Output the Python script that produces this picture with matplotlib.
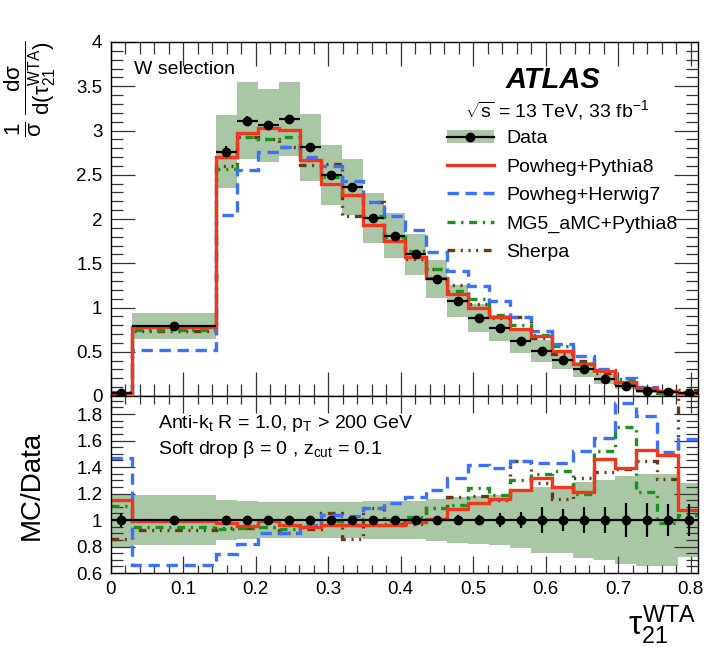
import matplotlib
matplotlib.use("Agg")
import matplotlib.pyplot as plt
from matplotlib.ticker import MultipleLocator, FuncFormatter
from matplotlib.patches import Patch
from matplotlib.lines import Line2D
import numpy as np

plt.rcParams['font.family'] = ['Liberation Sans', 'DejaVu Sans']
plt.rcParams['mathtext.fontset'] = 'custom'
plt.rcParams['mathtext.rm'] = 'Liberation Sans'
plt.rcParams['mathtext.it'] = 'Liberation Sans'
plt.rcParams['mathtext.bf'] = 'Liberation Sans:bold'

# bin edges (tau21 WTA), first bins merged
edges = np.array([0.0, 0.029, 0.145, 0.174, 0.203, 0.232, 0.261, 0.290, 0.319,
                  0.348, 0.377, 0.406, 0.435, 0.464, 0.493, 0.522, 0.551, 0.580,
                  0.609, 0.638, 0.667, 0.696, 0.725, 0.754, 0.783, 0.812])

# unfolded data, normalised
data = np.array([0.03, 0.79, 2.76, 3.11, 3.06, 3.13, 2.81, 2.50, 2.36, 2.01,
                 1.81, 1.60, 1.32, 1.07, 0.88, 0.77, 0.62, 0.51, 0.41, 0.30,
                 0.19, 0.11, 0.06, 0.04, 0.03])
# relative stat. uncertainty of data
stat_rel = np.array([0.05, 0.028, 0.023, 0.018, 0.016, 0.016, 0.016, 0.016, 0.016,
                     0.016, 0.018, 0.02, 0.02, 0.035, 0.04, 0.055, 0.06, 0.095,
                     0.085, 0.1, 0.1, 0.125, 0.125, 0.12, 0.12])
# relative total uncertainty (band)
tot_rel = np.array([0.20, 0.19, 0.15, 0.14, 0.135, 0.135, 0.135, 0.135, 0.135,
                    0.14, 0.14, 0.145, 0.16, 0.17, 0.18, 0.19, 0.21, 0.25, 0.25,
                    0.29, 0.30, 0.33, 0.35, 0.35, 0.28])

# MC / Data ratios
r_pythia = np.array([1.15, 0.99, 0.98, 0.955, 0.99, 0.96, 0.95, 0.96, 0.96, 0.96,
                     0.965, 0.985, 1.01, 1.08, 1.13, 1.16, 1.23, 1.32, 1.25, 1.21,
                     1.46, 1.39, 1.53, 1.49, 1.075])
r_herwig = np.array([1.465, 0.66, 0.74, 0.82, 0.90, 0.90, 0.96, 1.04, 1.03, 1.09,
                     1.125, 1.17, 1.23, 1.32, 1.415, 1.39, 1.445, 1.43, 1.43, 1.52,
                     1.62, 1.885, 1.785, 1.515, 1.61])
r_mg5 = np.array([1.105, 0.945, 0.93, 0.94, 0.95, 0.935, 0.95, 0.99, 0.96, 1.01,
                  0.99, 1.025, 1.09, 1.11, 1.24, 1.19, 1.30, 1.35, 1.37, 1.195,
                  1.52, 1.70, 1.21, 0.98, 1.035])
r_sherpa = np.array([0.86, 0.925, 0.94, 0.94, 0.95, 0.90, 0.93, 1.05, 0.86, 1.09,
                     0.97, 0.97, 1.09, 1.17, 1.18, 1.15, 1.445, 1.28, 1.155, 1.32,
                     1.36, 1.385, 1.445, 1.31, 2.1])

names = ["Powheg+Pythia8", "Powheg+Herwig7", "MG5_aMC+Pythia8", "Sherpa"]

band_col = '#a9c7a4'
c_red = '#f2361e'
c_blue = '#3a72ff'
c_green = '#17951a'
c_brown = '#6e3612'

mc = [(r_sherpa, c_brown, (0, (2.3, 1.7, 0.6, 1.7, 0.6, 1.7, 0.6, 1.7)), names[3]),
      (r_mg5, c_green, (0, (2.4, 1.7, 0.7, 1.7)), names[2]),
      (r_herwig, c_blue, (0, (3.4, 2.0)), names[1]),
      (r_pythia, c_red, '-', names[0])]

centres = 0.5 * (edges[1:] + edges[:-1])
halfw = 0.5 * (edges[1:] - edges[:-1])

W, H = 724, 647
left, right = 110.6, 698
fig = plt.figure(figsize=(W / 100, H / 100), dpi=100)
ax1 = fig.add_axes([left / W, (H - 396) / H, (right - left) / W, (396 - 42) / H])
ax2 = fig.add_axes([left / W, (H - 573) / H, (right - left) / W, (573 - 396) / H], sharex=ax1)

# top panel
ax1.stairs(data * (1 + tot_rel), edges, baseline=data * (1 - tot_rel), fill=True,
           color=band_col, lw=0, zorder=1)
for r, col, ls, lab in mc:
    ax1.stairs(data * r, edges, baseline=None, color=col, ls=ls, lw=2.4, zorder=2)
ax1.errorbar(centres, data, xerr=halfw, yerr=data * stat_rel, fmt='o', color='black',
             ms=6, lw=1.6, capsize=0, zorder=3)

# ratio panel
ax2.stairs(1 + tot_rel, edges, baseline=1 - tot_rel, fill=True, color=band_col, lw=0, zorder=1)
for r, col, ls, lab in mc:
    ax2.stairs(r, edges, baseline=None, color=col, ls=ls, lw=2.4, zorder=2)
ax2.errorbar(centres, np.ones_like(data), xerr=halfw, yerr=stat_rel, fmt='o', color='black',
             ms=6, lw=1.6, capsize=0, zorder=3)

fmt = FuncFormatter(lambda v, p: f"{v:g}")
ax1.set_xlim(0, 0.81)
ax1.set_ylim(0, 4)
ax2.set_ylim(0.6, 1.936)
ax1.xaxis.set_major_locator(MultipleLocator(0.1))
ax1.xaxis.set_minor_locator(MultipleLocator(0.02))
ax1.yaxis.set_major_locator(MultipleLocator(0.5))
ax1.yaxis.set_minor_locator(MultipleLocator(0.1))
ax2.yaxis.set_major_locator(MultipleLocator(0.2))
ax2.yaxis.set_minor_locator(MultipleLocator(0.05))
for ax in (ax1, ax2):
    ax.xaxis.set_major_formatter(fmt)
    ax.yaxis.set_major_formatter(fmt)
    ax.tick_params(which='both', direction='in', top=True, right=True,
                   color='#333333', width=0.9, labelsize=13.5, pad=6)
    for s in ax.spines.values():
        s.set_linewidth(1.0)
ax1.tick_params(which='major', length=17)
ax1.tick_params(which='minor', length=8.5)
ax1.tick_params(axis='x', labelbottom=False)
ax2.tick_params(which='major', length=12)
ax2.tick_params(which='minor', length=6)
ax2.tick_params(axis='y', which='major', length=17)
ax2.tick_params(axis='y', which='minor', length=8.5)

# text
ax1.text(0.04, 0.921, "W selection", transform=ax1.transAxes, fontsize=14, va='center')
ax1.text(0.753, 0.893, "ATLAS", transform=ax1.transAxes, fontsize=21,
         fontweight='bold', fontstyle='italic', ha='center', va='center')
ax1.text(0.76, 0.808, r"$\sqrt{s}$ = 13 TeV, 33 fb$^{-1}$", transform=ax1.transAxes,
         fontsize=14, ha='center', va='center')

handles = [(Patch(color=band_col, lw=0),
            Line2D([], [], color='black', marker='o', ms=6, lw=1.6))]
labels = ["Data"]
for r, col, ls, lab in mc[::-1]:
    handles.append(Line2D([], [], color=col, ls=ls, lw=2.4))
    labels.append(lab)
ax1.legend(handles, labels, loc='upper left', bbox_to_anchor=(0.572, 0.752),
           frameon=False, fontsize=14, borderpad=0, borderaxespad=0,
           handlelength=2.45, handletextpad=0.6, labelspacing=0.55)

ax2.text(0.081, 0.847, r"Anti-k$_{t}$ R = 1.0, p$_{T}$ > 200 GeV", transform=ax2.transAxes,
         fontsize=14, va='center')
ax2.text(0.081, 0.70, r"Soft drop $\beta$ = 0 , z$_{\rm cut}$ = 0.1", transform=ax2.transAxes,
         fontsize=14, va='center')

fig.text(30 / W, 1 - 40 / H, r"$\frac{1}{\sigma}\,\frac{d\sigma}{d(\tau_{21}^{WTA})}$",
         rotation=90, ha='center', va='top', fontsize=23)
fig.text(32 / W, 1 - 485 / H, "MC/Data", rotation=90, ha='center', va='center', fontsize=20)
fig.text(697 / W, 1 - 625 / H, r"$\tau_{21}^{WTA}$", ha='right', va='center', fontsize=24)

fig.savefig("out.png", dpi=100)
